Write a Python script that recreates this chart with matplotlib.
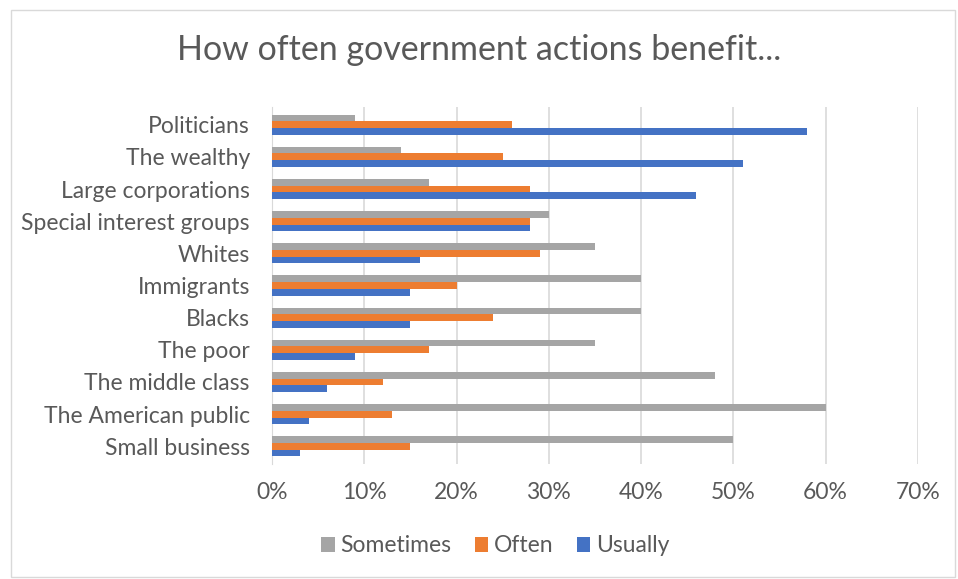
import matplotlib.pyplot as plt
import matplotlib.patches as mpatches
import numpy as np

# data (percent)
groups = ['Politicians', 'The wealthy', 'Large corporations', 'Special interest groups',
          'Whites', 'Immigrants', 'Blacks', 'The poor', 'The middle class',
          'The American public', 'Small business']
sometimes = [9, 14, 17, 30, 35, 40, 40, 35, 48, 60, 50]
often = [26, 25, 28, 28, 29, 20, 24, 17, 12, 13, 15]
usually = [58, 51, 46, 28, 16, 15, 15, 9, 6, 4, 3]
xticks = [0, 10, 20, 30, 40, 50, 60, 70]

plt.rcParams['font.family'] = ['Lato', 'DejaVu Sans']

fig = plt.figure(figsize=(9.58, 5.79), dpi=100)
ax = fig.add_axes([0.284, 0.1986, 0.674, 0.6166])

y = np.arange(len(groups))
h = 0.21
ax.barh(y - h, sometimes, height=h, color='#A5A5A5', label='Sometimes', zorder=3)
ax.barh(y, often, height=h, color='#ED7D31', label='Often', zorder=3)
ax.barh(y + h, usually, height=h, color='#4472C4', label='Usually', zorder=3)

ax.set_ylim(len(groups) - 0.45, -0.55)
ax.set_xlim(0, 70)
ax.set_xticks(xticks)
ax.set_xticklabels([f'{t}%' for t in xticks])
ax.set_yticks(y)
ax.set_yticklabels(groups)
ax.tick_params(axis='both', length=0, labelsize=16.5, colors='#595959')
ax.tick_params(axis='x', pad=13)
ax.tick_params(axis='y', pad=16)
ax.xaxis.grid(True, color='#D9D9D9', linewidth=1.2, zorder=0)
for s in ['top', 'right', 'bottom']:
    ax.spines[s].set_visible(False)
ax.spines['left'].set_color('#D9D9D9')

fig.text(0.5, 0.913, 'How often government actions benefit...', ha='center', va='center',
         fontsize=24.5, color='#595959')

fig.legend(loc='center', bbox_to_anchor=(0.517, 0.057), ncol=3, frameon=False,
           fontsize=16.5, labelcolor='#595959', handlelength=0.6, handleheight=0.6,
           handletextpad=0.25, columnspacing=1.0)

fig.patches.append(mpatches.Rectangle((0.0115, 0.0035), 0.985, 0.979, transform=fig.transFigure,
                                      fill=False, edgecolor='#D9D9D9', linewidth=1))

fig.savefig('out.png', dpi=100)
